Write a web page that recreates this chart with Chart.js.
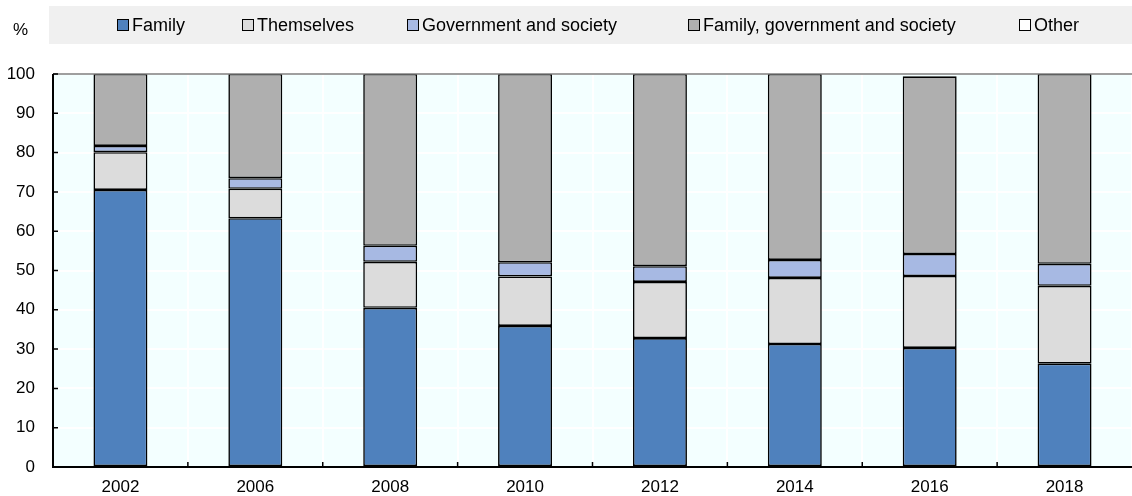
<!DOCTYPE html>
<html>
<head>
<meta charset="utf-8">
<script src="https://cdn.jsdelivr.net/npm/chart.js@4/dist/chart.umd.min.js"></script>
<style>
	html, body { margin: 0; padding: 0; background: #fff; }
	#wrap { position: relative; width: 1132px; height: 496px; font-family: "Liberation Sans", Arial, sans-serif; }
	#chart { position: absolute; left: 0; top: 0; }
	.unit { position: absolute; left: 13px; top: 20px; font-size: 17px; color: #000; }
	.legend { position: absolute; left: 49px; top: 6px; width: 1083px; height: 38px; background: #f0f0f0; font-size: 18px; color: #000; }
	.legend span.item { position: absolute; top: 0; height: 38px; display: flex; align-items: center; white-space: nowrap; }
	.legend i { display: inline-block; width: 10px; height: 10px; border: 1.5px solid #000; margin-right: 3px; }
</style>
</head>
<body>
<div id="wrap">
	<canvas id="chart" width="1132" height="496"></canvas>
	<div class="unit">%</div>
	<div class="legend"></div>
</div>
<script>
// survey years
const years = ["2002", "2006", "2008", "2010", "2012", "2014", "2016", "2018"];

// who should be responsible, % of respondents
const family = [70.5, 63.3, 40.5, 35.9, 32.8, 31.3, 30.3, 26.3];
const themselves = [9.6, 7.5, 11.7, 12.6, 14.3, 16.8, 18.3, 19.8];
const govSociety = [1.6, 2.7, 4.1, 3.6, 4.0, 4.6, 5.6, 5.6];
const familyGovSociety = [18.3, 26.5, 43.7, 47.9, 48.9, 47.3, 45.2, 48.3];
const other = [0, 0, 0, 0, 0, 0, 0, 0];

const yTicks = [0, 10, 20, 30, 40, 50, 60, 70, 80, 90, 100];

const seriesNames = ["Family", "Themselves", "Government and society", "Family, government and society", "Other"];
const seriesColors = ["#4f81bd", "#dcdcdc", "#a7b9e3", "#afafaf", "#ffffff"];
const seriesData = [family, themselves, govSociety, familyGovSociety, other];
// left edge of each legend entry inside the strip
const legendLeft = [68, 193, 358, 639, 970];

const FONT = "'Liberation Sans', Arial, sans-serif";

// legend strip above the plot
const legend = document.querySelector(".legend");
seriesNames.forEach((name, i) => {
	legend.innerHTML += `<span class="item" style="left:${legendLeft[i]}px"><i style="background:${seriesColors[i]}"></i>${name}</span>`;
});

// plot background, frame lines and the small inward tick marks
const framePlugin = {
	id: "frame",
	beforeDraw(chart) {
		const { ctx, chartArea: a } = chart;
		ctx.save();
		ctx.fillStyle = "#f3ffff";
		ctx.fillRect(a.left, a.top, a.right - a.left, a.bottom - a.top);
		ctx.restore();
	},
	afterDatasetsDraw(chart) {
		const { ctx, chartArea: a, scales } = chart;
		ctx.save();
		ctx.strokeStyle = "#7f7f7f";
		ctx.lineWidth = 1.5;
		ctx.beginPath();
		ctx.moveTo(a.left, a.top);
		ctx.lineTo(a.right, a.top);
		ctx.stroke();

		ctx.strokeStyle = "#000";
		ctx.lineWidth = 2;
		ctx.beginPath();
		ctx.moveTo(a.left, a.top);
		ctx.lineTo(a.left, a.bottom);
		ctx.lineTo(a.right, a.bottom);
		ctx.stroke();

		ctx.lineWidth = 1.5;
		ctx.beginPath();
		yTicks.forEach((v) => {
			const y = scales.y.getPixelForValue(v);
			ctx.moveTo(a.left, y);
			ctx.lineTo(a.left + 5, y);
		});
		const step = scales.x.getPixelForValue(1) - scales.x.getPixelForValue(0);
		for (let i = 1; i < years.length; i++) {
			const x = scales.x.getPixelForValue(i) - step / 2;
			ctx.moveTo(x, a.bottom);
			ctx.lineTo(x, a.bottom - 5);
		}
		ctx.stroke();
		ctx.restore();
	},
};

new Chart(document.getElementById("chart"), {
	type: "bar",
	data: {
		labels: years,
		datasets: seriesData.map((data, i) => ({
			label: seriesNames[i],
			data: data,
			backgroundColor: seriesColors[i],
			borderColor: "#000",
			borderWidth: i === 4 ? 0 : 1.6,
			borderSkipped: false,
			barPercentage: 0.4,
			categoryPercentage: 1,
		})),
	},
	options: {
		responsive: false,
		animation: false,
		layout: { padding: { top: 74, right: 0, left: 0, bottom: 0 } },
		plugins: { legend: { display: false }, tooltip: { enabled: false } },
		scales: {
			x: {
				stacked: true,
				grid: { color: "#ffffff", lineWidth: 2, drawTicks: false, offset: true },
				border: { display: false },
				ticks: { color: "#000", font: { family: FONT, size: 17 }, padding: 10 },
				afterFit: (s) => { s.height = 29; },
			},
			y: {
				stacked: true,
				min: 0,
				max: 100,
				afterBuildTicks: (s) => { s.ticks = yTicks.map((v) => ({ value: v })); },
				grid: { color: "#ffffff", lineWidth: 2, drawTicks: false },
				border: { display: false },
				ticks: { color: "#000", font: { family: FONT, size: 17 }, padding: 18 },
				afterFit: (s) => { s.width = 53; },
			},
		},
	},
	plugins: [framePlugin],
});
</script>
</body>
</html>
